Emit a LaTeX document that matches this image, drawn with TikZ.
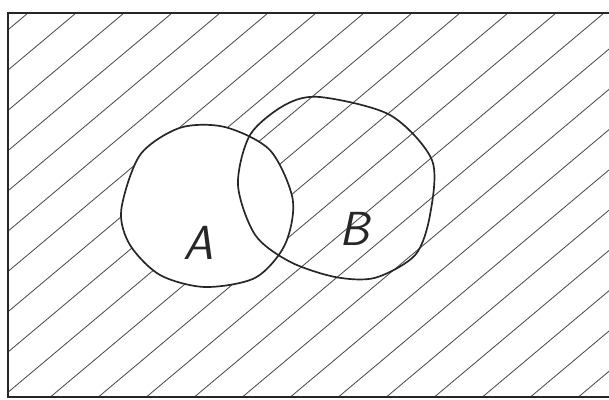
\documentclass[tikz,border=0pt]{standalone}
\usepackage{tikz}
\usetikzlibrary{positioning}

\begin{document}
\begin{tikzpicture}[
    hatch/.style={draw=black!70, line width=0.6pt},
    setline/.style={draw=black!85, line width=1.2pt},
    frameline/.style={draw=black!85, line width=1.3pt},
    setlabel/.style={font=\fontsize{34}{34}\selectfont\sffamily\itshape, text=black!85}
]
    \useasboundingbox (0,0) rectangle (15.225,9.975);

    % Sets A and B
    \def\setA{plot[smooth cycle] coordinates {(3.03,4.72) (3.50,6.10) (4.50,6.78) (5.62,6.80) (6.75,6.22) (7.32,4.98) (7.12,3.85) (6.38,3.03) (5.12,2.80) (4.00,3.10) (3.25,3.85)}}
    \def\setB{plot[smooth cycle] coordinates {(8.00,7.55) (9.75,7.10) (10.80,5.97) (10.75,4.60) (10.38,3.60) (9.38,3.03) (8.38,3.05) (7.25,3.43) (6.38,4.10) (5.95,5.35) (6.25,6.60) (7.12,7.35)}}

    % Hatching outside A
    \begin{scope}[even odd rule]
        \clip (0.2,0.05) rectangle (15.4,9.65) \setA;
        \foreach \i in {-11,...,13}
            \draw[hatch] (\i*1.2,0) -- ++(40:22);
    \end{scope}

    % Frame
    \draw[frameline] (0.2,0.05) rectangle (15.4,9.65);

    \draw[setline] \setA;
    \draw[setline] \setB;

    % Labels
    \node[setlabel] (labA) at (4.95,3.9) {A};
    \node[setlabel] (labB) at (8.85,4.25) {B};
\end{tikzpicture}
\end{document}
